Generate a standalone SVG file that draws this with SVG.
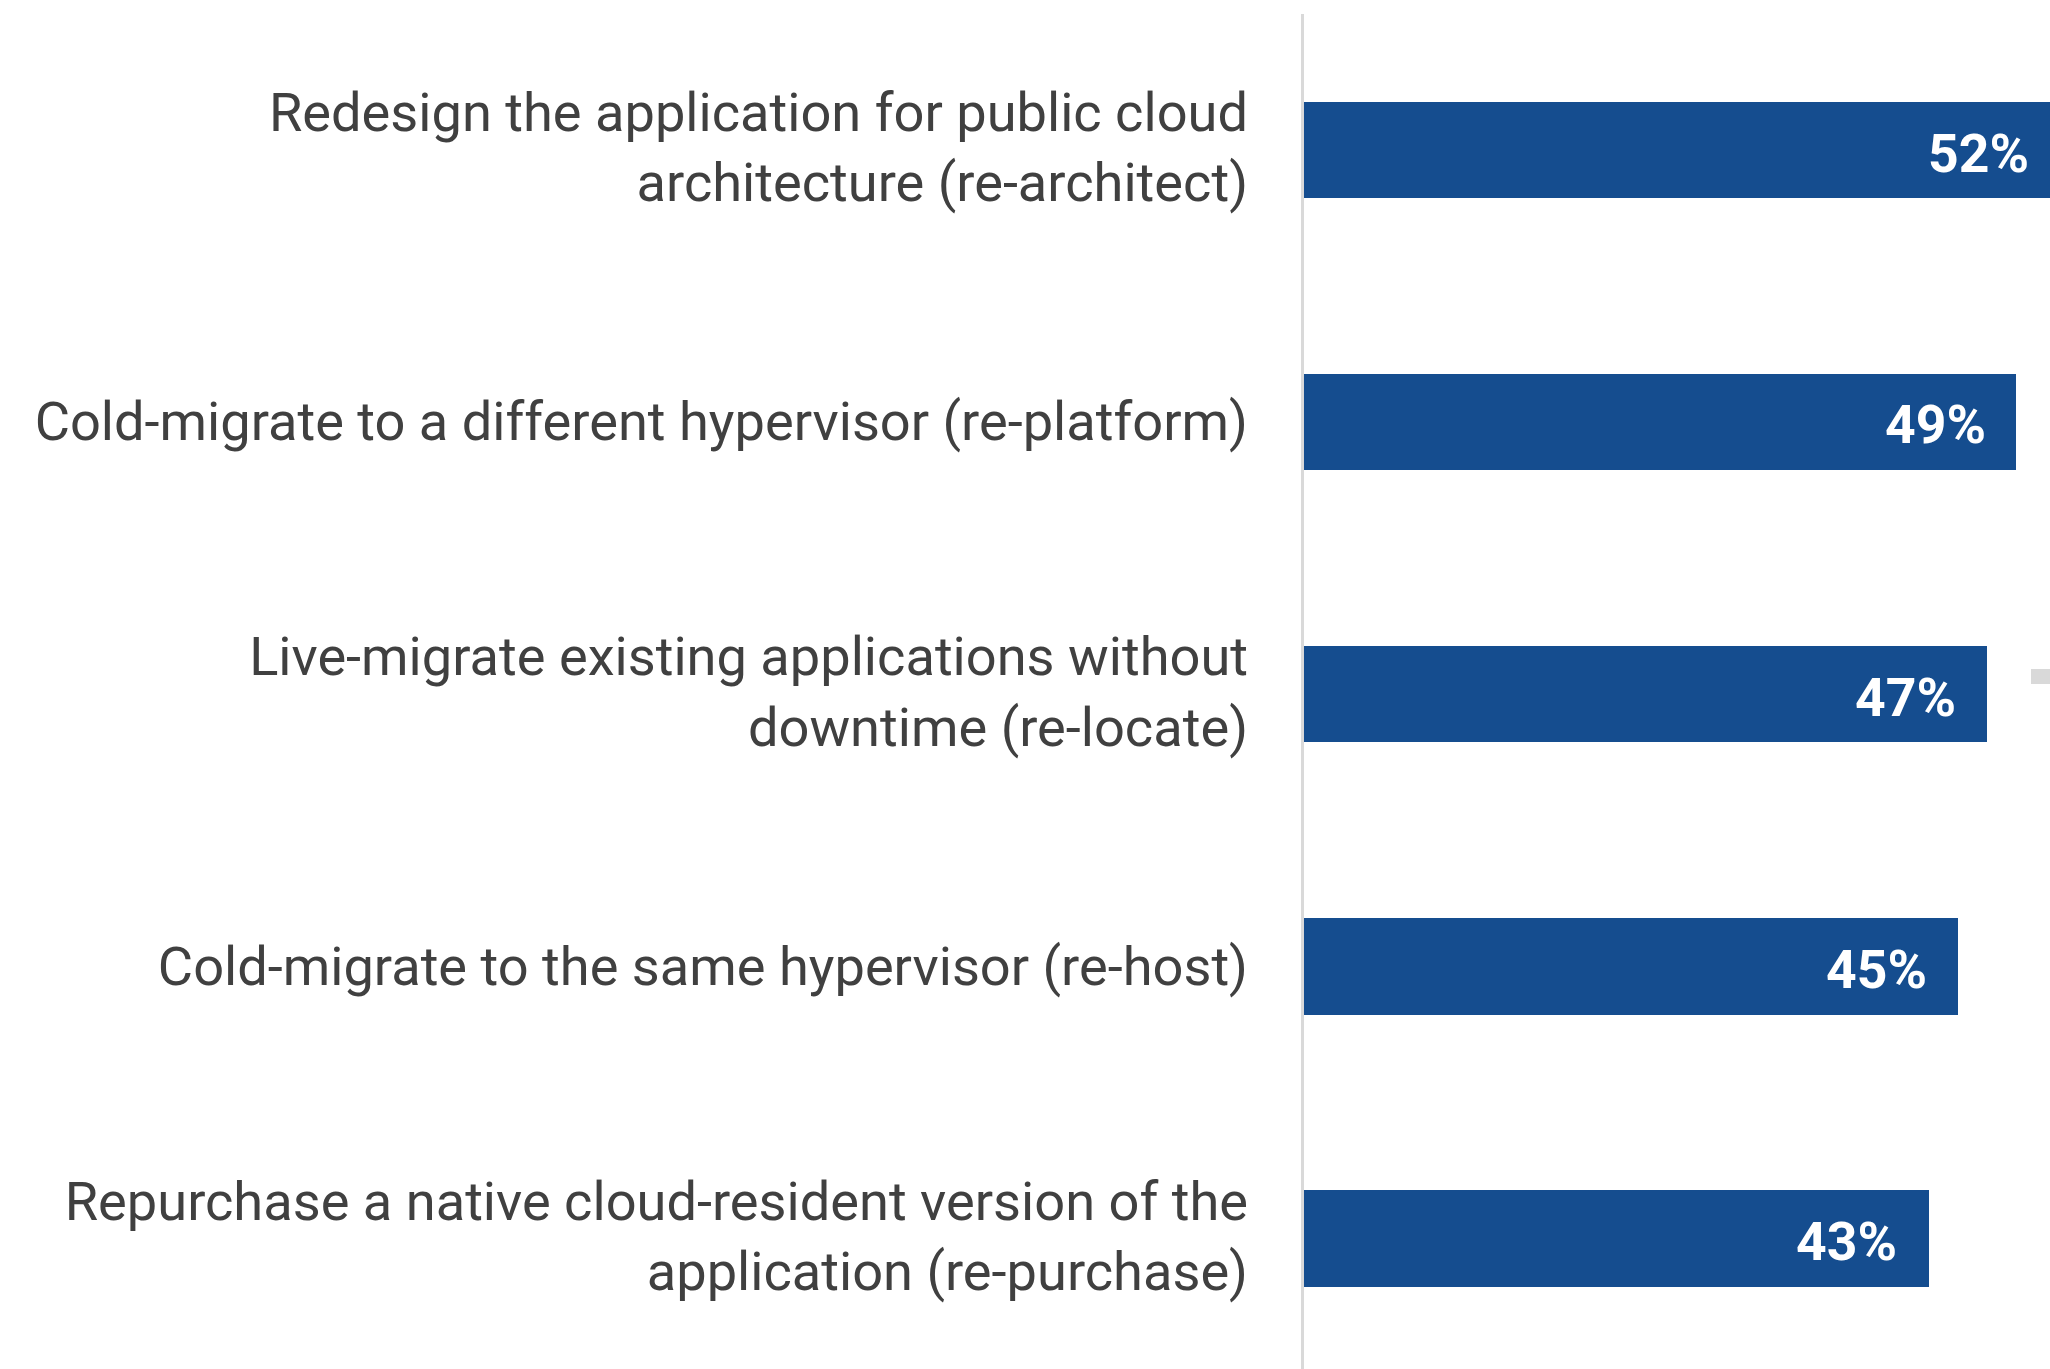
<svg xmlns="http://www.w3.org/2000/svg" width="2050" height="1369" viewBox="0 0 2050 1369">
<style>
.lbl{font-family:Roboto,"Liberation Sans",sans-serif;font-size:54.2px;fill:#404040;text-anchor:end}
.val{font-family:Roboto,"Liberation Sans",sans-serif;font-size:53.5px;font-weight:bold;fill:#ffffff;text-anchor:end}
.bar{fill:#154d8f}
</style>
<rect width="2050" height="1369" fill="#ffffff"/>
<g id="axis">
<rect x="1301" y="14" width="3" height="1355" fill="#d9d9d9"/>
</g>
<g id="row1">
<text class="lbl" x="1248" y="131">Redesign the application for public cloud</text>
<text class="lbl" x="1248" y="201">architecture (re-architect)</text>
<rect class="bar" x="1304" y="102" width="760" height="96"/>
<text class="val" x="2029" y="172">52%</text>
</g>
<g id="row2">
<text class="lbl" x="1248" y="440">Cold-migrate to a different hypervisor (re-platform)</text>
<rect class="bar" x="1304" y="374" width="712" height="96"/>
<text class="val" x="1986" y="443">49%</text>
</g>
<g id="row3">
<text class="lbl" x="1248" y="675">Live-migrate existing applications without</text>
<text class="lbl" x="1248" y="746">downtime (re-locate)</text>
<rect class="bar" x="1304" y="646" width="683" height="96"/>
<text class="val" x="1956" y="716">47%</text>
<rect x="2031" y="669" width="19" height="15" fill="#d9d9d9"/>
</g>
<g id="row4">
<text class="lbl" x="1248" y="985">Cold-migrate to the same hypervisor (re-host)</text>
<rect class="bar" x="1304" y="918" width="654" height="97"/>
<text class="val" x="1927" y="988">45%</text>
</g>
<g id="row5">
<text class="lbl" x="1248" y="1220">Repurchase a native cloud-resident version of the</text>
<text class="lbl" x="1248" y="1290">application (re-purchase)</text>
<rect class="bar" x="1304" y="1190" width="625" height="97"/>
<text class="val" x="1897" y="1260">43%</text>
</g>
<g id="connectors"></g>
</svg>
